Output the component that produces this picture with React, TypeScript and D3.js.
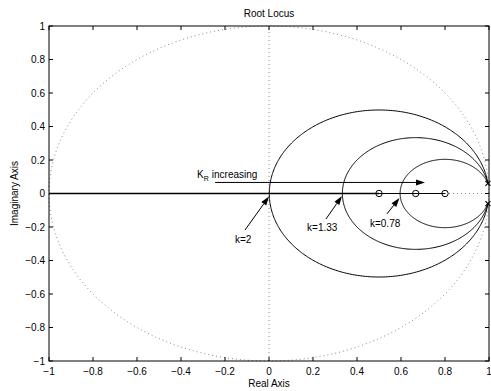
import React from "react";
import * as d3 from "d3";

const W = 491;
const H = 391;
const xTicks = [-1, -0.8, -0.6, -0.4, -0.2, 0, 0.2, 0.4, 0.6, 0.8, 1];
const yTicks = [-1, -0.8, -0.6, -0.4, -0.2, 0, 0.2, 0.4, 0.6, 0.8, 1];
const zeros = [0.5, 0.667, 0.8];
const pole = [0.995, 0.06];
const gainLabels = ["k=2", "k=1.33", "k=0.78"];
const arrowTips = [[0.0, -0.018], [0.332, -0.015], [0.593, -0.027]];
const arrowTails = [[-0.109, -0.218], [0.259, -0.152], [0.536, -0.122]];
const labelPos = [[-0.155, -0.296], [0.173, -0.224], [0.459, -0.2]];
const kArrow = [[-0.245, 0.066], [0.709, 0.066]];
const kText = [-0.327, 0.093];

const fmt = (v: number) => {
  const s = d3.format("~g")(Math.round(v * 10) / 10);
  return s.replace("-", "\u2212");
};

function Arrow({ x1, y1, x2, y2 }: { x1: number; y1: number; x2: number; y2: number }) {
  const ang = Math.atan2(y2 - y1, x2 - x1);
  const L = 9, Wd = 3;
  const bx = x2 - L * Math.cos(ang), by = y2 - L * Math.sin(ang);
  const px = -Math.sin(ang) * Wd, py = Math.cos(ang) * Wd;
  return (
    <g>
      <line x1={x1} y1={y1} x2={bx} y2={by} stroke="#000" strokeWidth={1} />
      <path d={`M${x2},${y2}L${bx + px},${by + py}L${bx - px},${by - py}Z`} fill="#000" />
    </g>
  );
}

export default function App() {
  const x = d3.scaleLinear().domain([-1, 1]).range([49, 489]);
  const y = d3.scaleLinear().domain([-1, 1]).range([361, 26]);
  const line = d3.line<[number, number]>().x((d) => x(d[0])).y((d) => y(d[1]));

  const unit: [number, number][] = d3.range(0, 361, 1).map((a) => {
    const t = (a * Math.PI) / 180;
    return [Math.cos(t), Math.sin(t)];
  });

  const loci = zeros.map((z) => {
    const r = Math.hypot(pole[0] - z, pole[1]);
    const a0 = Math.atan2(pole[1], pole[0] - z);
    const up: [number, number][] = d3.range(0, 201).map((i) => {
      const t = a0 + ((Math.PI - a0) * i) / 200;
      return [z + r * Math.cos(t), r * Math.sin(t)];
    });
    const down: [number, number][] = up.map((p) => [p[0], -p[1]]);
    return { z, r, up, down };
  });

  const font = "'Liberation Sans', Arial, sans-serif";
  const tl = 4;

  return (
    <svg width={W} height={H} style={{ position: "absolute", left: 0, top: 0, background: "#fff" }} fontFamily={font}>
      <rect x={0} y={0} width={W} height={H} fill="#fff" />
      {/* dotted guides */}
      <path d={line(unit) || ""} fill="none" stroke="#888" strokeWidth={1} strokeDasharray="1,3" />
      <line x1={x(0)} x2={x(0)} y1={y(-1)} y2={y(1)} stroke="#888" strokeDasharray="1,3" />
      <line x1={x(-1)} x2={x(1)} y1={y(0)} y2={y(0)} stroke="#888" strokeDasharray="1,3" />
      {/* loci */}
      {loci.map((l, i) => (
        <g key={i}>
          <path d={line(l.up) || ""} fill="none" stroke="#000" strokeWidth={1} />
          <path d={line(l.down) || ""} fill="none" stroke="#000" strokeWidth={1} />
          <line x1={x(-1)} x2={x(l.z)} y1={y(0)} y2={y(0)} stroke="#000" strokeWidth={i === 0 ? 1.6 : 1} />
        </g>
      ))}
      {/* zeros */}
      {zeros.map((z, i) => (
        <circle key={i} cx={x(z)} cy={y(0)} r={3.2} fill="none" stroke="#000" strokeWidth={1} />
      ))}
      {/* poles */}
      {[pole[1], -pole[1]].map((im, i) => (
        <g key={i} stroke="#000" strokeWidth={1.2}>
          <line x1={x(pole[0]) - 2.5} x2={x(pole[0]) + 2.5} y1={y(im) - 2.5} y2={y(im) + 2.5} />
          <line x1={x(pole[0]) - 2.5} x2={x(pole[0]) + 2.5} y1={y(im) + 2.5} y2={y(im) - 2.5} />
        </g>
      ))}
      {/* annotations */}
      <Arrow x1={x(kArrow[0][0])} y1={y(kArrow[0][1])} x2={x(kArrow[1][0])} y2={y(kArrow[1][1])} />
      <text x={x(kText[0])} y={y(kText[1])} fontSize={10}>
        K<tspan fontSize={7} dy={3}>R</tspan>
        <tspan dy={-3} dx={3}>increasing</tspan>
      </text>
      {gainLabels.map((g, i) => (
        <g key={g}>
          <Arrow x1={x(arrowTails[i][0])} y1={y(arrowTails[i][1])} x2={x(arrowTips[i][0])} y2={y(arrowTips[i][1])} />
          <text x={x(labelPos[i][0])} y={y(labelPos[i][1])} fontSize={10}>{g}</text>
        </g>
      ))}
      {/* axes box */}
      <rect x={x(-1)} y={y(1)} width={x(1) - x(-1)} height={y(-1) - y(1)} fill="none" stroke="#000" strokeWidth={1} />
      {xTicks.map((t) => (
        <g key={"x" + t}>
          <line x1={x(t)} x2={x(t)} y1={y(-1)} y2={y(-1) - tl} stroke="#000" />
          <line x1={x(t)} x2={x(t)} y1={y(1)} y2={y(1) + tl} stroke="#000" />
          <text x={x(t)} y={y(-1) + 14} fontSize={10} textAnchor="middle">{fmt(t)}</text>
        </g>
      ))}
      {yTicks.map((t) => (
        <g key={"y" + t}>
          <line x1={x(-1)} x2={x(-1) + tl} y1={y(t)} y2={y(t)} stroke="#000" />
          <line x1={x(1)} x2={x(1) - tl} y1={y(t)} y2={y(t)} stroke="#000" />
          <text x={x(-1) - 4} y={y(t) + 3.5} fontSize={10} textAnchor="end">{fmt(t)}</text>
        </g>
      ))}
      <text x={(x(-1) + x(1)) / 2} y={17} fontSize={10} textAnchor="middle">Root Locus</text>
      <text x={(x(-1) + x(1)) / 2} y={387} fontSize={10} textAnchor="middle">Real Axis</text>
      <text transform={`translate(18,${(y(-1) + y(1)) / 2}) rotate(-90)`} fontSize={10} textAnchor="middle">Imaginary Axis</text>
    </svg>
  );
}
